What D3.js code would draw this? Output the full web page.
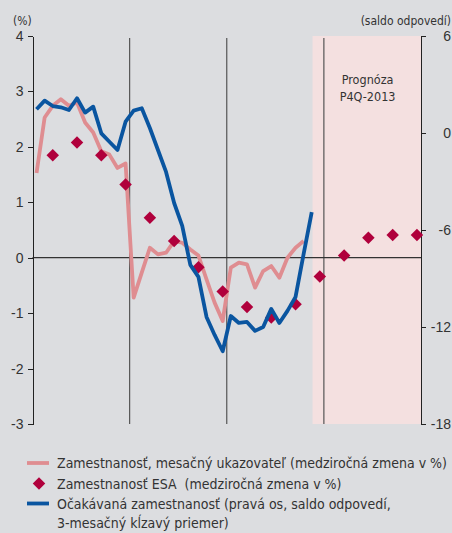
<!DOCTYPE html>
<html>
<head>
  <meta charset="utf-8">
  <title>Zamestnanosť</title>
  <style>
    body { margin: 0; background: #dcdde0; }
    svg { display: block; font-family: "Liberation Sans Narrow", "DejaVu Sans Condensed", sans-serif; }
    .axis path, .axis line { stroke: #222; shape-rendering: crispEdges; }
    .axis text { fill: #333; }
  </style>
  <script src="https://d3js.org/d3.v7.min.js"></script>
</head>
<body>
  <div id="chart"></div>
  <script>
    // mesacne data, 48 mesiacov (4 roky), index 0 = prvy mesiac
    var monthlyEmp = [1.53, 2.53, 2.74, 2.86, 2.74, 2.8, 2.44, 2.26, 1.92, 1.86, 1.62, 1.7,
                      -0.72, -0.27, 0.18, 0.06, 0.09, 0.3, 0.27, 0.15, 0.04, -0.39, -0.81, -1.14,
                      -0.18, -0.09, -0.12, -0.54, -0.24, -0.15, -0.36, 0.0, 0.18, 0.3];
    // stvrtrocne ESA, zobrazene v 3. mesiaci stvrtroka
    var esaMonths = [2, 5, 8, 11, 14, 17, 20, 23, 26, 29, 32, 35, 38, 41, 44, 47];
    var esaValues = [1.85, 2.08, 1.85, 1.32, 0.72, 0.3, -0.17, -0.61, -0.89, -1.08, -0.84,
                     -0.34, 0.04, 0.36, 0.41, 0.41];
    // ocakavana zamestnanost (prava os)
    var expected = [1.47, 2.0, 1.67, 1.59, 1.42, 2.15, 1.26, 1.63, -0.02, -0.54, -1.05, 0.7,
                    1.38, 1.53, 0.31, -1.05, -2.41, -4.33, -5.75, -8.16, -8.9, -11.38, -12.49, -13.5,
                    -11.32, -11.75, -11.69, -12.24, -12.0, -10.88, -11.75, -11.0, -10.14, -7.48, -4.89];
    var leftTicks = [4, 3, 2, 1, 0, -1, -2, -3];
    var rightTicks = [6, 0, -6, -12, -18];
    var yearBreaks = [12, 24, 36];
    var forecastStart = 34.6;
    var legendLabels = [
      ["Zamestnanosť, mesačný ukazovateľ (medziročná zmena v %)"],
      ["Zamestnanosť ESA  (medziročná zmena v %)"],
      ["Očakávaná zamestnanosť (pravá os, saldo odpovedí,", "3-mesačný kĺzavý priemer)"]
    ];

    var W = 452, H = 533;
    var m = {left: 32.5, right: 421, top: 36, bottom: 424};

    var svg = d3.select("#chart").append("svg")
        .attr("width", W)
        .attr("height", H);

    var x = d3.scaleLinear().domain([0, 48]).range([m.left, m.right]);
    var yL = d3.scaleLinear().domain([-3, 4]).range([m.bottom, m.top]);
    var yR = d3.scaleLinear().domain([-18, 6]).range([m.bottom, m.top]);
    var fmt = function(d) { return String(d); };

    // prognoza
    svg.append("rect")
      .attr("x", x(forecastStart))
      .attr("y", m.top)
      .attr("width", x(48) - x(forecastStart))
      .attr("height", m.bottom - m.top)
      .attr("fill", "#f4e0e0");

    svg.append("text")
      .attr("text-anchor", "middle")
      .attr("font-size", 12.5)
      .attr("fill", "#333")
      .selectAll("tspan")
      .data(["Prognóza", "P4Q-2013"])
      .join("tspan")
        .attr("x", x(41.4))
        .attr("y", function(d, i) { return 84 + i * 17; })
        .text(function(d) { return d; });

    // rocne deliace ciary
    svg.selectAll(".yr")
      .data(yearBreaks)
      .join("line")
        .attr("x1", function(d) { return x(d); })
        .attr("x2", function(d) { return x(d); })
        .attr("y1", m.top + 2)
        .attr("y2", m.bottom)
        .attr("stroke", "#555")
        .attr("stroke-width", 1.2);

    svg.append("line")
      .attr("x1", m.left).attr("x2", m.right)
      .attr("y1", yL(0)).attr("y2", yL(0))
      .attr("stroke", "#333")
      .attr("stroke-width", 1.2);

    // osi
    svg.append("g")
      .attr("class", "axis")
      .attr("transform", "translate(" + m.left + ",0)")
      .call(d3.axisLeft(yL).tickValues(leftTicks).tickFormat(fmt)
        .tickSize(5).tickSizeOuter(0).tickPadding(4))
      .call(function(g) { g.selectAll("text").attr("font-size", 14); });

    svg.append("g")
      .attr("class", "axis")
      .attr("transform", "translate(" + m.right + ",0)")
      .call(d3.axisRight(yR).tickValues(rightTicks).tickFormat(fmt)
        .tickSize(5).tickSizeOuter(0).tickPadding(4))
      .call(function(g) {
        g.selectAll("text").attr("font-size", 14).attr("text-anchor", "end").attr("x", 30);
      });

    svg.append("text")
      .attr("x", 13).attr("y", 25)
      .attr("font-size", 12).attr("fill", "#333")
      .text("(%)");
    svg.append("text")
      .attr("x", 451).attr("y", 25)
      .attr("text-anchor", "end")
      .attr("font-size", 12).attr("fill", "#333")
      .text("(saldo odpovedí)");

    // ciary
    var lineL = d3.line()
      .x(function(d, i) { return x(i + 0.5); })
      .y(function(d) { return yL(d); });
    var lineR = d3.line()
      .x(function(d, i) { return x(i + 0.5); })
      .y(function(d) { return yR(d); });

    svg.append("path")
      .datum(monthlyEmp)
      .attr("fill", "none")
      .attr("stroke", "#df8d91")
      .attr("stroke-width", 3.8)
      .attr("stroke-linejoin", "round")
      .attr("d", lineL);

    var diamond = d3.symbol().type(d3.symbolSquare).size(78);
    svg.selectAll(".esa")
      .data(esaValues)
      .join("path")
        .attr("d", diamond)
        .attr("fill", "#b0003c")
        .attr("transform", function(d, i) {
          return "translate(" + x(esaMonths[i] + 0.5) + "," + yL(d) + ") rotate(45)";
        });

    svg.append("path")
      .datum(expected)
      .attr("fill", "none")
      .attr("stroke", "#0a55a0")
      .attr("stroke-width", 3.8)
      .attr("stroke-linejoin", "round")
      .attr("d", lineR);

    // legenda
    var lg = svg.append("g").attr("font-size", 14).attr("fill", "#333");
    var rows = [463, 483.5, 503.5];
    lg.append("line")
      .attr("x1", 27).attr("x2", 49).attr("y1", rows[0]).attr("y2", rows[0])
      .attr("stroke", "#df8d91").attr("stroke-width", 3.8);
    lg.append("path")
      .attr("d", diamond)
      .attr("fill", "#b0003c")
      .attr("transform", "translate(39," + rows[1] + ") rotate(45)");
    lg.append("line")
      .attr("x1", 27).attr("x2", 49).attr("y1", rows[2]).attr("y2", rows[2])
      .attr("stroke", "#0a55a0").attr("stroke-width", 3.8);

    legendLabels.forEach(function(lines, i) {
      lines.forEach(function(t, j) {
        lg.append("text")
          .attr("x", 57)
          .attr("y", rows[i] + 5 + j * 19)
          .style("white-space", "pre")
          .text(t);
      });
    });
  </script>
</body>
</html>
